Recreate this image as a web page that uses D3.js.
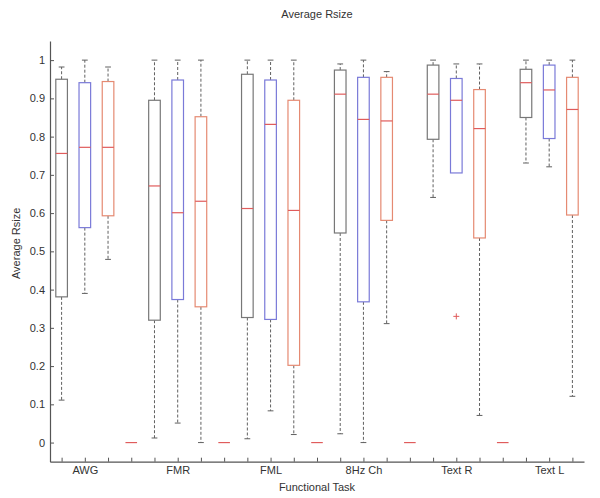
<!DOCTYPE html>
<html>
<head>
<meta charset="utf-8">
<script src="https://cdn.jsdelivr.net/npm/d3@7"></script>
<style>
  html, body { margin: 0; padding: 0; background: #fff; }
  svg { display: block; font-family: "Liberation Sans", Arial, Helvetica, sans-serif; }
</style>
</head>
<body>
<svg id="chart" width="600" height="498"></svg>
<script>
// ---- data ----
const categories = ["AWG", "FMR", "FML", "8Hz Ch", "Text R", "Text L"];
const seriesNames = ["black", "blue", "orange"];   // three boxes per task
// each row: one task; each column: one series
const lowerWhisker = [
  [0.111, 0.390, 0.479],
  [0.012, 0.051, 0.000],
  [0.010, 0.083, 0.021],
  [0.023, 0.000, 0.311],
  [0.641, 0.705, 0.071],
  [0.731, 0.721, 0.121]
];
const q1 = [
  [0.381, 0.562, 0.593],
  [0.320, 0.374, 0.355],
  [0.327, 0.322, 0.202],
  [0.548, 0.368, 0.581],
  [0.793, 0.705, 0.535],
  [0.850, 0.795, 0.595]
];
const medians = [
  [0.756, 0.772, 0.772],
  [0.671, 0.601, 0.631],
  [0.612, 0.832, 0.607],
  [0.911, 0.845, 0.841],
  [0.911, 0.895, 0.821],
  [0.941, 0.922, 0.871]
];
const q3 = [
  [0.950, 0.941, 0.944],
  [0.895, 0.948, 0.852],
  [0.963, 0.948, 0.895],
  [0.974, 0.955, 0.955],
  [0.987, 0.952, 0.923],
  [0.976, 0.987, 0.955]
];
const upperWhisker = [
  [0.982, 1.000, 0.982],
  [1.000, 1.000, 1.000],
  [1.000, 1.000, 1.000],
  [0.990, 1.000, 0.970],
  [1.000, 0.990, 0.990],
  [1.000, 1.000, 1.000]
];
// empty (degenerate) fourth box after each of the first five tasks
const emptyMedians = [0, 0, 0, 0, 0];
// outliers: [task index, series index, value]
const outliers = [[4, 1, 0.33]];
const yTicks = [0, 0.1, 0.2, 0.3, 0.4, 0.5, 0.6, 0.7, 0.8, 0.9, 1];

// ---- styles ----
const boxColors = { black: "#777777", blue: "#7a7ad8", orange: "#e58a72" };
const medianColor = "#e05c5c";
const whiskerColor = "#606060";
const axisColor = "#555555";
const textColor = "#333333";

const svg = d3.select("#chart");
const margin = { left: 50, right: 16, top: 41, bottom: 36.3 };
const W = 600, H = 498;
const nPos = categories.length * 4 - 1;

const x = d3.scaleLinear().domain([0.5, nPos + 0.5]).range([margin.left, W - margin.right]);
const y = d3.scaleLinear().domain([-0.05, 1.05]).range([H - margin.bottom, margin.top]);

const boxW = 0.5, capW = 0.25;
const pos = (g, s) => g * 4 + s + 1;

// build box records
const boxes = [];
categories.forEach((c, g) => {
  seriesNames.forEach((s, si) => {
    boxes.push({ p: pos(g, si), series: s, lo: lowerWhisker[g][si], q1: q1[g][si],
      med: medians[g][si], q3: q3[g][si], hi: upperWhisker[g][si] });
  });
});

const gBox = svg.append("g");

// whiskers (dashed)
gBox.selectAll("line.wu").data(boxes).join("line")
  .attr("x1", d => x(d.p)).attr("x2", d => x(d.p))
  .attr("y1", d => y(d.q3)).attr("y2", d => y(d.hi))
  .attr("stroke", whiskerColor).attr("stroke-width", 1).attr("stroke-dasharray", "3,2");
gBox.selectAll("line.wl").data(boxes.filter(d => d.lo < d.q1)).join("line")
  .attr("x1", d => x(d.p)).attr("x2", d => x(d.p))
  .attr("y1", d => y(d.q1)).attr("y2", d => y(d.lo))
  .attr("stroke", whiskerColor).attr("stroke-width", 1).attr("stroke-dasharray", "3,2");

// caps
gBox.selectAll("line.cu").data(boxes).join("line")
  .attr("x1", d => x(d.p - capW / 2)).attr("x2", d => x(d.p + capW / 2))
  .attr("y1", d => y(d.hi)).attr("y2", d => y(d.hi))
  .attr("stroke", whiskerColor).attr("stroke-width", 1);
gBox.selectAll("line.cl").data(boxes.filter(d => d.lo < d.q1)).join("line")
  .attr("x1", d => x(d.p - capW / 2)).attr("x2", d => x(d.p + capW / 2))
  .attr("y1", d => y(d.lo)).attr("y2", d => y(d.lo))
  .attr("stroke", whiskerColor).attr("stroke-width", 1);

// boxes
gBox.selectAll("rect.box").data(boxes).join("rect")
  .attr("x", d => x(d.p - boxW / 2)).attr("width", d => x(d.p + boxW / 2) - x(d.p - boxW / 2))
  .attr("y", d => y(d.q3)).attr("height", d => y(d.q1) - y(d.q3))
  .attr("fill", "white").attr("stroke", d => boxColors[d.series]).attr("stroke-width", 1.2);

// medians
gBox.selectAll("line.med").data(boxes).join("line")
  .attr("x1", d => x(d.p - boxW / 2)).attr("x2", d => x(d.p + boxW / 2))
  .attr("y1", d => y(d.med)).attr("y2", d => y(d.med))
  .attr("stroke", medianColor).attr("stroke-width", 1.2);

// empty boxes (median only)
gBox.selectAll("line.emp").data(emptyMedians).join("line")
  .attr("x1", (d, i) => x(i * 4 + 4 - boxW / 2)).attr("x2", (d, i) => x(i * 4 + 4 + boxW / 2))
  .attr("y1", d => y(d)).attr("y2", d => y(d))
  .attr("stroke", medianColor).attr("stroke-width", 1.2);

// outliers '+'
const oSize = 3;
outliers.forEach(([g, s, v]) => {
  const cx = x(pos(g, s)), cy = y(v);
  gBox.append("path")
    .attr("d", `M${cx - oSize},${cy}H${cx + oSize}M${cx},${cy - oSize}V${cy + oSize}`)
    .attr("stroke", medianColor).attr("stroke-width", 1).attr("fill", "none");
});

// ---- axes ----
const xTicks = d3.range(1, nPos + 1);
const xAxis = d3.axisBottom(x).tickValues(xTicks)
  .tickSizeInner(-4).tickSizeOuter(0).tickPadding(5)
  .tickFormat(d => ((d - 2) % 4 === 0) ? categories[(d - 2) / 4] : "");
const gx = svg.append("g").attr("transform", `translate(0,${H - margin.bottom})`).call(xAxis);

const yAxis = d3.axisLeft(y).tickValues(yTicks)
  .tickSizeInner(-4).tickSizeOuter(0).tickPadding(5)
  .tickFormat(d => d3.format("")(+d.toFixed(1)));
const gy = svg.append("g").attr("transform", `translate(${margin.left},0)`).call(yAxis);

[gx, gy].forEach(g => {
  g.select(".domain").attr("stroke", axisColor).attr("stroke-width", 1.2);
  g.selectAll(".tick line").attr("stroke", axisColor);
  g.selectAll(".tick text").attr("fill", textColor).attr("font-size", 11)
    .attr("font-family", "'Liberation Sans', Arial, sans-serif");
});

// titles
svg.append("text").attr("x", (x.range()[0] + x.range()[1]) / 2).attr("y", 18)
  .attr("text-anchor", "middle").attr("font-size", 11).attr("fill", textColor)
  .text("Average Rsize");
svg.append("text").attr("x", (x.range()[0] + x.range()[1]) / 2).attr("y", 491)
  .attr("text-anchor", "middle").attr("font-size", 11).attr("fill", textColor)
  .text("Functional Task");
svg.append("text").attr("transform", `translate(20,${(y.range()[0] + y.range()[1]) / 2 - 8}) rotate(-90)`)
  .attr("text-anchor", "middle").attr("font-size", 11).attr("fill", textColor)
  .text("Average Rsize");
</script>
</body>
</html>
